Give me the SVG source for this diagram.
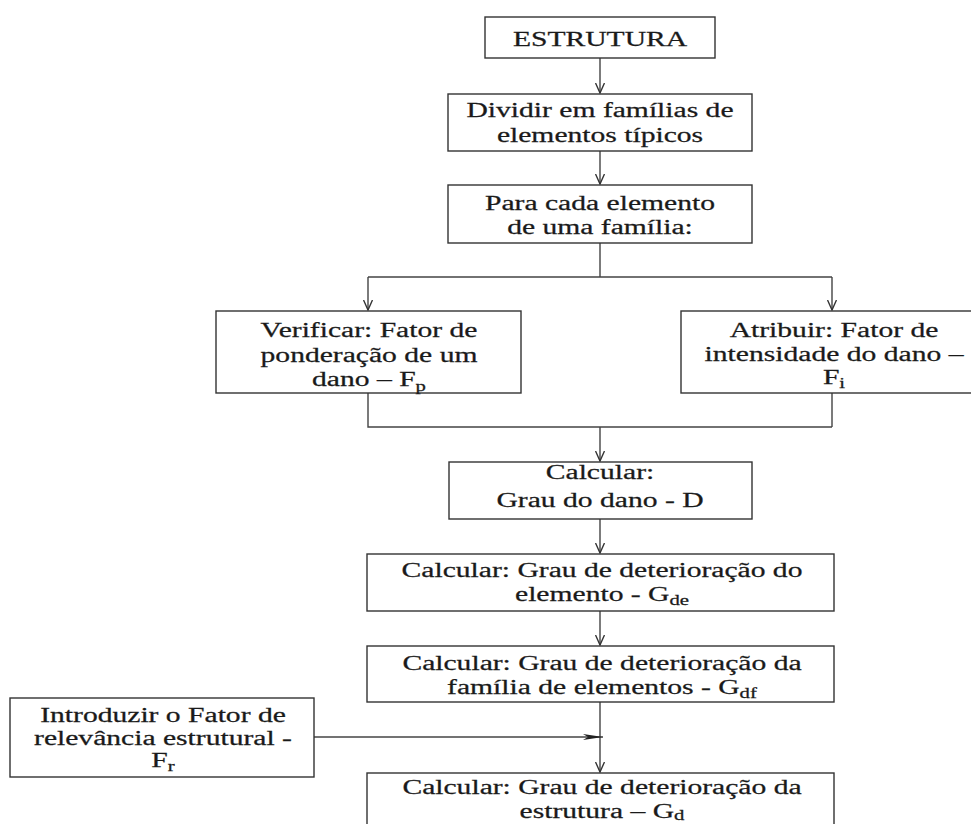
<svg xmlns="http://www.w3.org/2000/svg" width="971" height="824" viewBox="0 0 971 824">
<style>
.box{fill:#fff;stroke:#333;stroke-width:1.4}
.t{font-family:"Liberation Serif","Times New Roman",serif;font-size:20px;fill:#1a1a1a;stroke:#1a1a1a;stroke-width:0.25;text-anchor:middle}
.sub{font-size:14px}
.c{fill:none;stroke:#444;stroke-width:1.4}
</style>
<defs>
<marker id="v" viewBox="0 0 10 10" refX="10" refY="5" markerWidth="11" markerHeight="10" markerUnits="userSpaceOnUse" orient="auto">
<path d="M0,0.5 L10,5 L0,9.5" fill="none" stroke="#333" stroke-width="1.4"/>
</marker>
<marker id="f" viewBox="0 0 20 8" refX="20" refY="4" markerWidth="22" markerHeight="8" markerUnits="userSpaceOnUse" orient="auto">
<path d="M0,1 L20,4 L0,7 L5,4 z" fill="#222"/>
</marker>
</defs>
<rect width="971" height="824" fill="#fff"/>
<g id="connectors">
<path class="c" d="M600,58 V93" marker-end="url(#v)"/>
<path class="c" d="M600,151 V184" marker-end="url(#v)"/>
<path class="c" d="M600,243 V277 M368,277 H832"/>
<path class="c" d="M368,277 V310" marker-end="url(#v)"/>
<path class="c" d="M832,277 V310" marker-end="url(#v)"/>
<path class="c" d="M368,393 V427 H832 M832,393 V427"/>
<path class="c" d="M600,427 V461" marker-end="url(#v)"/>
<path class="c" d="M600,519 V553" marker-end="url(#v)"/>
<path class="c" d="M600,611 V645" marker-end="url(#v)"/>
<path class="c" d="M600,702 V772" marker-end="url(#v)"/>
<path class="c" d="M314,737 H603" marker-end="url(#f)"/>
</g>
<g id="n1">
<rect class="box" x="485" y="17" width="230" height="41"/>
<text class="t" transform="translate(600 0) scale(1.48 1)" x="0" y="46">ESTRUTURA</text>
</g>
<g id="n2">
<rect class="box" x="448" y="94" width="304" height="57"/>
<text class="t" transform="translate(600 0) scale(1.48 1)" x="0" y="117">Dividir em famílias de</text>
<text class="t" transform="translate(600 0) scale(1.48 1)" x="0" y="142">elementos típicos</text>
</g>
<g id="n3">
<rect class="box" x="448" y="185" width="304" height="58"/>
<text class="t" transform="translate(600 0) scale(1.48 1)" x="0" y="210">Para cada elemento</text>
<text class="t" transform="translate(600 0) scale(1.48 1)" x="0" y="234">de uma família:</text>
</g>
<g id="n4">
<rect class="box" x="216" y="311" width="305" height="82"/>
<text class="t" transform="translate(369 0) scale(1.48 1)" x="0" y="337">Verificar: Fator de</text>
<text class="t" transform="translate(369 0) scale(1.48 1)" x="0" y="362">ponderação de um</text>
<text class="t" transform="translate(369 0) scale(1.48 1)" x="0" y="386">dano – F<tspan class="sub" dy="5">p</tspan></text>
</g>
<g id="n5">
<rect class="box" x="681" y="311" width="305" height="82"/>
<text class="t" transform="translate(834 0) scale(1.48 1)" x="0" y="337">Atribuir: Fator de</text>
<text class="t" transform="translate(834 0) scale(1.48 1)" x="0" y="361">intensidade do dano –</text>
<text class="t" transform="translate(834 0) scale(1.48 1)" x="0" y="384">F<tspan class="sub" dy="4">i</tspan></text>
</g>
<g id="n6">
<rect class="box" x="449" y="462" width="303" height="57"/>
<text class="t" transform="translate(600 0) scale(1.48 1)" x="0" y="479">Calcular:</text>
<text class="t" transform="translate(600 0) scale(1.48 1)" x="0" y="507">Grau do dano - D</text>
</g>
<g id="n7">
<rect class="box" x="367" y="554" width="467" height="57"/>
<text class="t" transform="translate(602 0) scale(1.48 1)" x="0" y="577">Calcular: Grau de deterioração do</text>
<text class="t" transform="translate(602 0) scale(1.48 1)" x="0" y="601">elemento - G<tspan class="sub" dy="4">de</tspan></text>
</g>
<g id="n8">
<rect class="box" x="367" y="646" width="467" height="56"/>
<text class="t" transform="translate(602 0) scale(1.48 1)" x="0" y="670">Calcular: Grau de deterioração da</text>
<text class="t" transform="translate(602 0) scale(1.48 1)" x="0" y="694">família de elementos - G<tspan class="sub" dy="4">df</tspan></text>
</g>
<g id="n9">
<rect class="box" x="10" y="698" width="304" height="79"/>
<text class="t" transform="translate(163 0) scale(1.48 1)" x="0" y="722">Introduzir o Fator de</text>
<text class="t" transform="translate(163 0) scale(1.48 1)" x="0" y="745">relevância estrutural -</text>
<text class="t" transform="translate(163 0) scale(1.48 1)" x="0" y="767">F<tspan class="sub" dy="4">r</tspan></text>
</g>
<g id="n10">
<rect class="box" x="367" y="773" width="467" height="70"/>
<text class="t" transform="translate(602 0) scale(1.48 1)" x="0" y="794">Calcular: Grau de deterioração da</text>
<text class="t" transform="translate(602 0) scale(1.48 1)" x="0" y="818">estrutura – G<tspan class="sub" dy="2">d</tspan></text>
</g>
</svg>
